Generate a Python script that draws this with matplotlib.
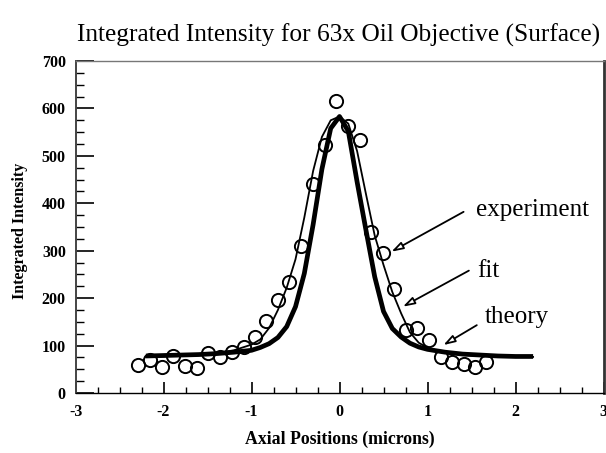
import matplotlib
matplotlib.use("Agg")
import matplotlib.pyplot as plt
from matplotlib.ticker import MultipleLocator

plt.rcParams['font.family'] = ['Liberation Serif', 'DejaVu Serif']
plt.rcParams['axes.unicode_minus'] = False

# experiment (open circles)
exp_x = [-2.29, -2.15, -2.02, -1.89, -1.76, -1.62, -1.49, -1.36, -1.22, -1.09,
         -0.96, -0.83, -0.70, -0.57, -0.44, -0.30, -0.17, -0.04, 0.10, 0.23,
         0.36, 0.49, 0.62, 0.75, 0.88, 1.02, 1.15, 1.28, 1.41, 1.54, 1.67]
exp_y = [59, 70, 54, 78, 57, 52, 84, 75, 87, 98,
         117, 152, 196, 234, 310, 440, 523, 616, 562, 534,
         340, 296, 219, 132, 136, 112, 75, 66, 61, 55, 66]

# fit (thin line)
fit_x = [-2.2, -2.0, -1.8, -1.6, -1.4, -1.2, -1.0, -0.9, -0.8, -0.7, -0.6, -0.5,
         -0.4, -0.3, -0.2, -0.1, 0.0, 0.1, 0.2, 0.3, 0.4, 0.5, 0.6, 0.7, 0.8,
         0.9, 1.0, 1.2, 1.4, 1.6, 1.8, 2.0, 2.2]
fit_y = [76, 77, 79, 81, 84, 90, 102, 113, 137, 175, 222, 282,
         370, 468, 540, 575, 583, 568, 510, 420, 332, 270, 213, 168, 128,
         106, 95, 85, 80, 78, 77, 76, 76]

# theory (thick line)
th_x = [-2.2, -2.0, -1.8, -1.6, -1.4, -1.2, -1.0, -0.9, -0.8, -0.7, -0.6, -0.5,
        -0.4, -0.3, -0.2, -0.1, 0.0, 0.1, 0.2, 0.3, 0.4, 0.5, 0.6, 0.7, 0.8,
        0.9, 1.0, 1.2, 1.4, 1.6, 1.8, 2.0, 2.2]
th_y = [78, 79, 80, 81, 83, 86, 90, 96, 104, 117, 140, 182,
        252, 355, 472, 558, 583, 552, 445, 344, 245, 172, 136, 118, 105,
        97, 92, 86, 82, 80, 78, 77, 77]

title = "Integrated Intensity for 63x Oil Objective (Surface)"
xlabel = "Axial Positions (microns)"
ylabel = "Integrated Intensity"

fig = plt.figure(figsize=(6.06, 4.53), dpi=100)
ax = fig.add_axes([0.1246, 0.1325, 0.8713, 0.7328])

ax.plot(th_x, th_y, color='black', lw=3.4, solid_capstyle='butt', zorder=2)
ax.plot(fit_x, fit_y, color='black', lw=1.3, zorder=3)
ax.plot(exp_x, exp_y, linestyle='none', marker='o', ms=9.5, mfc='none',
        mec='black', mew=1.4, zorder=4)

ax.set_xlim(-3, 3)
ax.set_ylim(0, 700)
ax.xaxis.set_major_locator(MultipleLocator(1))
ax.xaxis.set_minor_locator(MultipleLocator(0.25))
ax.yaxis.set_major_locator(MultipleLocator(100))
ax.yaxis.set_minor_locator(MultipleLocator(25))

ax.tick_params(axis='x', which='major', direction='in', length=8, width=1.2,
               pad=8, labelsize=11.5)
ax.tick_params(axis='x', which='minor', direction='in', length=4, width=1)
ax.tick_params(axis='y', which='major', direction='in', length=13, width=1.2,
               pad=7, labelsize=11.5)
ax.tick_params(axis='y', which='minor', direction='in', length=6, width=1)
for lab in ax.get_xticklabels() + ax.get_yticklabels():
    lab.set_fontweight('bold')

ax.spines['top'].set_color('#777777')
ax.spines['top'].set_linewidth(1.0)
ax.spines['right'].set_color('#333333')
ax.spines['right'].set_linewidth(2.0)
ax.spines['left'].set_color('#444444')
ax.spines['left'].set_linewidth(1.4)
ax.spines['bottom'].set_linestyle((0, (1, 1)))
ax.spines['bottom'].set_linewidth(1.0)

fig.text(0.558, 0.922, title, ha='center', va='center', fontsize=18.3)
fig.text(0.561, 0.030, xlabel, ha='center', va='center', fontsize=12.8,
         fontweight='bold')
fig.text(0.033, 0.49, ylabel, ha='center', va='center', fontsize=11.5,
         fontweight='bold', rotation=90)

arrow = dict(arrowstyle='-|>,head_length=0.7,head_width=0.22',
             fc='white', ec='black', lw=1.3, shrinkA=0, shrinkB=0)
ax.annotate('', xy=(0.59, 298), xytext=(1.41, 382), arrowprops=arrow)
ax.annotate('', xy=(0.72, 182), xytext=(1.47, 258), arrowprops=arrow)
ax.annotate('', xy=(1.18, 101), xytext=(1.56, 143), arrowprops=arrow)
ax.text(1.55, 386, 'experiment', fontsize=18, ha='left', va='center')
ax.text(1.57, 258, 'fit', fontsize=18, ha='left', va='center')
ax.text(1.65, 160, 'theory', fontsize=18, ha='left', va='center')

fig.savefig('out.png', dpi=100)
